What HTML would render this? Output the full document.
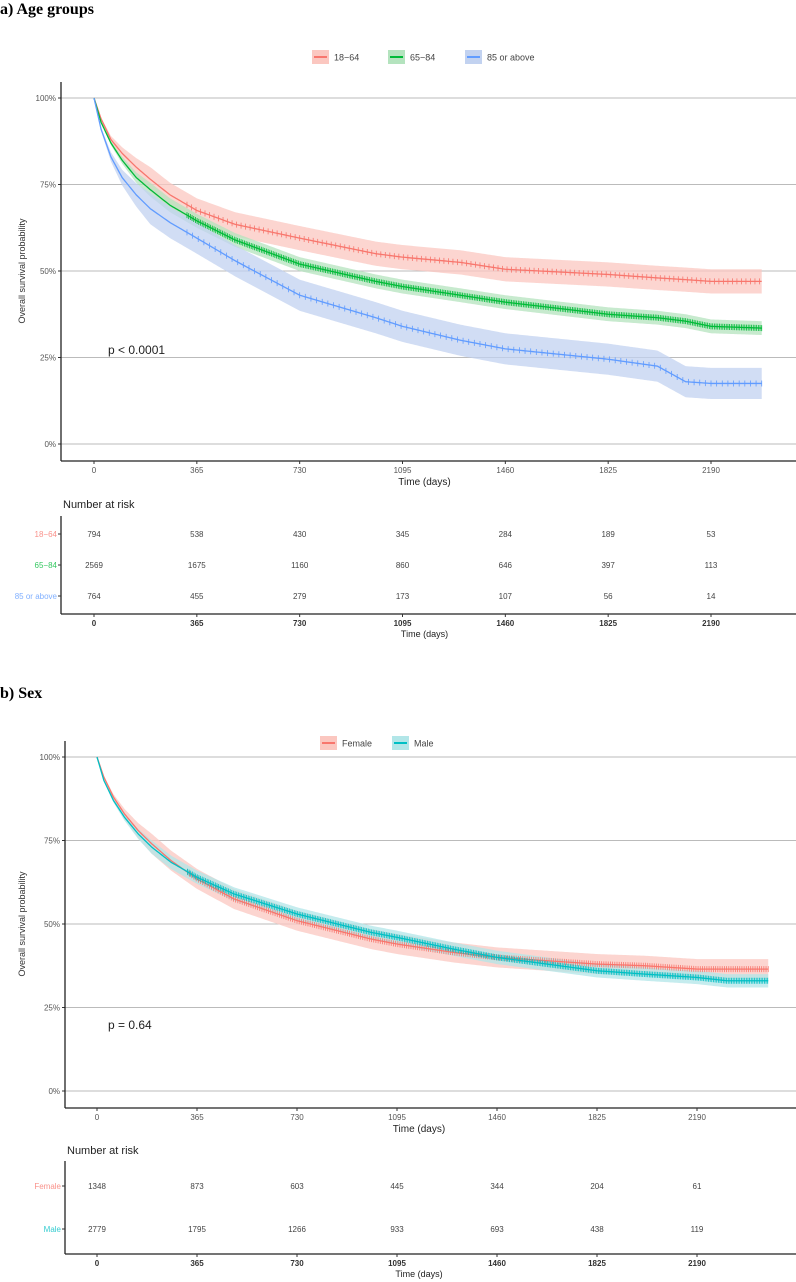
<!DOCTYPE html>
<html><head><meta charset="utf-8"><style>
body{margin:0;background:#fff;width:796px;height:1282px;overflow:hidden}
svg{display:block;font-family:"Liberation Sans",sans-serif}
</style></head><body>
<svg id="c" width="796" height="1282">
<text x="0" y="14" font-family="Liberation Serif" font-weight="bold" font-size="16">a) Age groups</text>
<text x="0" y="698" font-family="Liberation Serif" font-weight="bold" font-size="16">b) Sex</text>
</svg>
<script>
// Panel A data
const ageGroups = ['18−64','65−84','85 or above'];
const ageDays = [0,25,60,100,150,200,270,365,500,730,1000,1095,1300,1460,1825,2000,2100,2190,2370];
const age1864 = [1,0.94,0.88,0.84,0.80,0.765,0.72,0.675,0.635,0.595,0.55,0.54,0.525,0.505,0.49,0.48,0.475,0.47,0.47];
const age6584 = [1,0.93,0.87,0.82,0.77,0.735,0.69,0.645,0.59,0.52,0.47,0.455,0.43,0.41,0.375,0.365,0.355,0.34,0.335];
const age85 = [1,0.91,0.83,0.77,0.72,0.68,0.64,0.595,0.53,0.43,0.365,0.34,0.30,0.275,0.245,0.225,0.18,0.175,0.175];
const ageCI = [0.035,0.02,0.045];
const ageRisk = [[794,538,430,345,284,189,53],[2569,1675,1160,860,646,397,113],[764,455,279,173,107,56,14]];
// Panel B data
const sexGroups = ['Female','Male'];
const sexDays = [0,25,60,100,150,200,270,365,500,730,1000,1095,1300,1460,1825,2000,2190,2300,2450];
const sexFemale = [1,0.94,0.88,0.83,0.78,0.74,0.69,0.635,0.575,0.51,0.455,0.44,0.415,0.40,0.38,0.375,0.365,0.365,0.365];
const sexMale = [1,0.93,0.87,0.82,0.77,0.73,0.685,0.64,0.59,0.53,0.475,0.46,0.425,0.40,0.36,0.35,0.34,0.33,0.33];
const sexCI = [0.03,0.02];
const sexRisk = [[1348,873,603,445,344,204,61],[2779,1795,1266,933,693,438,119]];
const xTicks = [0,365,730,1095,1460,1825,2190];
const yTicks = [0,0.25,0.5,0.75,1];

const NS='http://www.w3.org/2000/svg';
const svg=document.getElementById('c');
function mk(tag,attrs,parent,txt){const e=document.createElementNS(NS,tag);for(const k in attrs)e.setAttribute(k,attrs[k]);if(txt!==undefined)e.textContent=txt;(parent||svg).appendChild(e);return e;}
function interp(days,vals,d){for(let i=1;i<days.length;i++){if(d<=days[i]){const t=(d-days[i-1])/(days[i]-days[i-1]);return vals[i-1]+t*(vals[i]-vals[i-1]);}}return vals[vals.length-1];}

function panel(o){
  const X=d=>o.x0+d*o.kx, Y=v=>o.y0-v*(o.y0-o.y1);
  o.groups.forEach((g,i)=>{
    const lx=o.legX[i];
    const le=mk('g',{});
    
    
    mk('rect',{x:lx,y:o.legY-7,width:17,height:14,fill:o.fills[i]},le);
    mk('line',{x1:lx+2,x2:lx+15,y1:o.legY,y2:o.legY,stroke:o.cols[i],'stroke-width':2},le);
    mk('text',{x:lx+22,y:o.legY+3.5,'font-size':9,fill:'#444'},le,g);
  });
  yTicks.forEach(v=>{
    const gl=mk('line',{x1:o.ax,x2:796,y1:Y(v),y2:Y(v),stroke:'#bbb','stroke-width':1});
    
    
    const tl=mk('text',{x:o.ax-5,y:Y(v)+3,'font-size':8,fill:'#555','text-anchor':'end'},svg,Math.round(v*100)+'%');
    
    
    mk('line',{x1:o.ax-3,x2:o.ax,y1:Y(v),y2:Y(v),stroke:'#333'});
  });
  o.series.forEach((s,i)=>{
    const last=o.days[o.days.length-1];
    let up=[],lo=[];
    for(let d=0;d<=last;d+=5){const v=interp(o.days,s,d);const w=o.ci[i]*Math.min(1,d/200);
      up.push(X(d)+','+Y(Math.min(1,v+w)));lo.unshift(X(d)+','+Y(v-w));}
    const band=mk('polygon',{points:up.concat(lo).join(' '),fill:o.fills[i],opacity:0.75});
    
    
  });
  o.series.forEach((s,i)=>{
    const last=o.days[o.days.length-1];
    let ln=[];
    for(let d=0;d<=last;d+=5){ln.push(X(d)+','+Y(interp(o.days,s,d)));}
    const p=mk('polyline',{points:ln.join(' '),fill:'none',stroke:o.cols[i],'stroke-width':1.3});
    
    
    let t='';
    for(let d=330;d<=last;d+=o.cens[i]){const v=interp(o.days,s,d);t+='M'+X(d)+' '+(Y(v)-3)+'v6';}
    mk('path',{d:t,stroke:o.cols[i],'stroke-width':0.8,fill:'none'});
  });
  mk('line',{x1:o.ax,x2:o.ax,y1:o.axTop,y2:o.axBot,stroke:'#222','stroke-width':1.3});
  mk('line',{x1:o.ax,x2:796,y1:o.axBot,y2:o.axBot,stroke:'#222','stroke-width':1.3});
  xTicks.forEach(d=>{
    mk('line',{x1:X(d),x2:X(d),y1:o.axBot,y2:o.axBot+3,stroke:'#333'});
    const t=mk('text',{x:X(d),y:o.axBot+12,'font-size':8,fill:'#555','text-anchor':'middle'},svg,d);
    
    
  });
  const xt=mk('text',{x:X(1095)+22,y:o.axBot+24,'font-size':10,fill:'#222','text-anchor':'middle'},svg,'Time (days)');
  
  
  const yt=mk('text',{x:0,y:0,'font-size':9,fill:'#333','text-anchor':'middle',transform:`translate(25,${(o.y0+o.y1)/2}) rotate(-90)`},svg,'Overall survival probability');
  
  
  const pv=mk('text',{x:108,y:o.pY,'font-size':12,fill:'#222'},svg,o.pText);
  
  
  const rt=mk('text',{x:o.ax+2,y:o.rTitleY,'font-size':11,fill:'#222'},svg,'Number at risk');
  
  
  mk('line',{x1:o.ax,x2:o.ax,y1:o.rTop,y2:o.rBot,stroke:'#222','stroke-width':1.3});
  mk('line',{x1:o.ax,x2:796,y1:o.rBot,y2:o.rBot,stroke:'#222','stroke-width':1.3});
  o.risk.forEach((row,i)=>{
    const ry=o.rRows[i];
    const lab=mk('text',{x:o.ax-4,y:ry+3,'font-size':8,fill:o.cols[i],'text-anchor':'end',opacity:0.8},svg,o.groups[i]);
    
    
    mk('line',{x1:o.ax-3,x2:o.ax,y1:ry,y2:ry,stroke:'#333'});
    row.forEach((n,j)=>{
      const c=mk('text',{x:X(xTicks[j]),y:ry+3,'font-size':8,fill:'#444','text-anchor':'middle'},svg,n);
      
      
    });
  });
  xTicks.forEach(d=>{
    mk('line',{x1:X(d),x2:X(d),y1:o.rBot,y2:o.rBot+3,stroke:'#333'});
    mk('text',{x:X(d),y:o.rBot+12,'font-size':8,fill:'#333','font-weight':'bold','text-anchor':'middle'},svg,d);
  });
  mk('text',{x:X(1095)+22,y:o.rBot+23,'font-size':9,fill:'#222','text-anchor':'middle'},svg,'Time (days)');
}

panel({groups:ageGroups,days:ageDays,series:[age1864,age6584,age85],ci:ageCI,risk:ageRisk,
  cols:['#F8766D','#00BA38','#619CFF'],fills:['#FBC7C0','#B4E3BE','#C2D2F0'],cens:[16,6,20],
  x0:94,kx:(711-94)/2190,y0:444,y1:98,ax:61,axTop:82,axBot:461,
  legX:[312,388,465],legY:57,pY:354,pText:'p < 0.0001',
  rTitleY:508,rTop:516,rBot:614,rRows:[534,565,596]});
panel({groups:sexGroups,days:sexDays,series:[sexFemale,sexMale],ci:sexCI,risk:sexRisk,
  cols:['#F8766D','#00BFC4'],fills:['#FBC7C0','#B2E6E8'],cens:[8,6],
  x0:97,kx:(697-97)/2190,y0:1091,y1:757,ax:65,axTop:741,axBot:1108,
  legX:[320,392],legY:743,pY:1029,pText:'p = 0.64',
  rTitleY:1154,rTop:1161,rBot:1254,rRows:[1186,1229]});
</script>
</body></html>
